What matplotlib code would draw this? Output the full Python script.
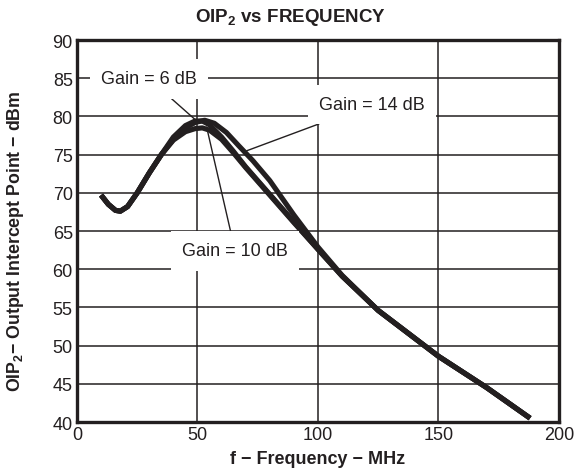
import numpy as np
import matplotlib
matplotlib.use('Agg')
from matplotlib import pyplot as plt

plt.rcParams['font.family'] = ['Liberation Sans', 'DejaVu Sans']
plt.rcParams['mathtext.default'] = 'regular'

# frequency (MHz) and OIP2 (dBm) for the three gain settings
freq_6 = [10, 13, 16, 18, 21, 25, 30, 35, 40, 45, 49, 52, 55, 60, 65, 70, 80, 90, 100, 110, 125, 150, 170, 188]
oip2_6 = [69.7, 68.5, 67.7, 67.6, 68.2, 70.0, 72.6, 75.0, 77.3, 78.8, 79.4, 79.4, 78.9, 77.3, 75.4, 73.4, 69.8, 66.2, 62.6, 59.1, 54.6, 48.6, 44.5, 40.5]

freq_10 = [10, 13, 16, 18, 21, 25, 30, 35, 40, 45, 49, 52, 55, 60, 65, 70, 80, 90, 100, 110, 125, 150, 170, 188]
oip2_10 = [69.7, 68.5, 67.7, 67.6, 68.2, 70.0, 72.6, 75.0, 76.9, 78.0, 78.4, 78.5, 78.2, 77.0, 75.2, 73.3, 69.7, 66.1, 62.6, 59.1, 54.6, 48.6, 44.5, 40.5]

freq_14 = [10, 13, 16, 18, 21, 25, 30, 35, 40, 45, 49, 53, 57, 62, 67, 73, 80, 90, 100, 110, 125, 150, 170, 188]
oip2_14 = [69.7, 68.5, 67.7, 67.6, 68.2, 70.0, 72.6, 75.0, 77.0, 78.5, 79.2, 79.5, 79.1, 77.9, 76.2, 74.2, 71.6, 67.1, 62.9, 59.2, 54.6, 48.6, 44.5, 40.5]

x_ticks = [0, 50, 100, 150, 200]
y_ticks = list(range(40, 95, 5))

ink = '#231f20'

fig = plt.figure(figsize=(5.77, 4.77), dpi=100)
ax = fig.add_axes([0.1334, 0.1132, 0.8354, 0.8008])

for f, v in [(freq_6, oip2_6), (freq_10, oip2_10), (freq_14, oip2_14)]:
    ax.plot(f, v, color=ink, lw=3.7, solid_capstyle='butt', solid_joinstyle='round', zorder=3)

ax.set_xlim(0, 200)
ax.set_ylim(40, 90)
ax.set_xticks(x_ticks)
ax.set_yticks(y_ticks)
ax.grid(True, color=ink, lw=1.1)
ax.set_axisbelow(True)
ax.tick_params(length=0, labelsize=13, pad=3, colors=ink)
for s in ax.spines.values():
    s.set_linewidth(2.4)
    s.set_color(ink)

fig.text(290 / 577, 1 - 17 / 477, 'OIP$_2$ vs FREQUENCY', fontsize=13.5, fontweight='bold',
         ha='center', va='center', color=ink)
ax.set_xlabel('f \u2212 Frequency \u2212 MHz', fontsize=13, fontweight='bold', labelpad=5, color=ink)
ax.set_ylabel('OIP$_2$\u2212 Output Intercept Point \u2212 dBm', fontsize=12.8, fontweight='bold', color=ink)
ax.yaxis.set_label_coords(-0.105, 0.475)

box = dict(facecolor='white', edgecolor='none', pad=8)
arrow = dict(arrowstyle='-', color=ink, lw=1.0, shrinkA=0, shrinkB=0)
ax.annotate('Gain = 6 dB', xy=(49.7, 79.4), xytext=(30.0, 84.9), fontsize=13, ha='center', va='center',
            bbox=box, arrowprops=arrow, zorder=4, color=ink)
ax.annotate('Gain = 14 dB', xy=(70.4, 75.5), xytext=(122.4, 81.6), fontsize=13, ha='center', va='center',
            bbox=box, arrowprops=arrow, zorder=4, color=ink)
ax.annotate('Gain = 10 dB', xy=(53.8, 78.6), xytext=(65.6, 62.4), fontsize=13, ha='center', va='center',
            bbox=box, arrowprops=arrow, zorder=4, color=ink)

fig.savefig('out.png', dpi=100)
